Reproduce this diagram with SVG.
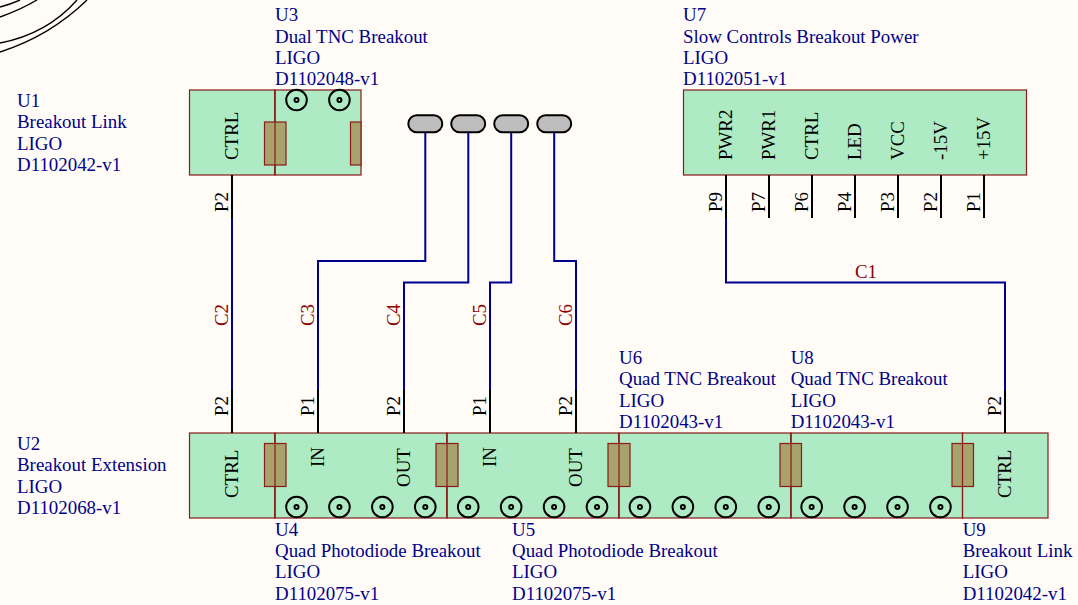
<svg xmlns="http://www.w3.org/2000/svg" width="1078" height="605" viewBox="0 0 1078 605">
<style>
text{font-family:"Liberation Serif","Times New Roman",serif;font-size:18.9px}
.d text,text.d{fill:#000088}
.pin{fill:#000}
.net{fill:#8b0000}
.b{fill:#aeeac4;stroke:#8b1a1a;stroke-width:1.2}
.c{fill:#a8a36c;stroke:#8b1a1a;stroke-width:1.2}
.l{stroke:#8b1a1a;stroke-width:1.2;fill:none}
.w{fill:none;stroke:#000090;stroke-width:2}
.p{stroke:#000;stroke-width:2;fill:none}
.o{fill:none;stroke:#000;stroke-width:2}
.t{fill:#bebebe;stroke:#000;stroke-width:2}
</style>
<defs>
<g id="tnc"><circle r="10.300" class="o"/><circle r="2" class="o"/></g>
</defs>
<rect width="1078" height="605" fill="#fffcf8"/>
<g id="arcs" fill="none" stroke="#000" stroke-width="1.4">
<path d="M0 52Q50 36 87 0"/><path d="M0 43Q47 34 77 0"/><path d="M0 17Q20 10 37 0"/><path d="M0 7Q11 4 20 0"/>
</g>
<g id="U1"><rect class="b" x="189.500" y="90" width="85.500" height="85"/>
<g class="d"><text x="17" y="107">U1</text><text x="17" y="128">Breakout Link</text><text x="17" y="150">LIGO</text><text x="17" y="171">D1102042-v1</text></g>
<text class="pin" transform="translate(238,160) rotate(-90)">CTRL</text></g>
<g id="U3"><rect class="b" x="275" y="90" width="86" height="85"/>
<rect class="c" x="264.500" y="122" width="21.500" height="43"/><rect class="c" x="350.500" y="122" width="10.500" height="43"/>
<path class="l" d="M275 90V175"/>
<use href="#tnc" x="296.500" y="100"/><use href="#tnc" x="339.430" y="100"/>
<g class="d"><text x="275" y="21">U3</text><text x="275" y="43">Dual TNC Breakout</text><text x="275" y="64">LIGO</text><text x="275" y="85">D1102048-v1</text></g></g>
<g id="U7"><rect class="b" x="683.500" y="90" width="343" height="85"/>
<g class="d"><text x="683" y="21">U7</text><text x="683" y="43">Slow Controls Breakout Power</text><text x="683" y="64">LIGO</text><text x="683" y="85">D1102051-v1</text></g>
<g class="pin">
<text transform="translate(732,160) rotate(-90)">PWR2</text><text transform="translate(775,160) rotate(-90)">PWR1</text><text transform="translate(818,160) rotate(-90)">CTRL</text><text transform="translate(861,160) rotate(-90)">LED</text><text transform="translate(904,160) rotate(-90)">VCC</text><text transform="translate(947,160) rotate(-90)">-15V</text><text transform="translate(990,160) rotate(-90)">+15V</text>
</g></g>
<g id="U2"><rect class="b" x="189.500" y="433" width="85.500" height="85"/>
<g class="d"><text x="17" y="450">U2</text><text x="17" y="471">Breakout Extension</text><text x="17" y="493">LIGO</text><text x="17" y="514">D1102068-v1</text></g>
<text class="pin" transform="translate(238,498) rotate(-90)">CTRL</text></g>
<g id="U4"><rect class="b" x="275" y="433" width="172" height="85"/>
<text class="pin" transform="translate(324,467) rotate(-90)">IN</text><text class="pin" transform="translate(410,487) rotate(-90)">OUT</text>
<use href="#tnc" x="296.500" y="507"/><use href="#tnc" x="339.430" y="507"/><use href="#tnc" x="382.360" y="507"/><use href="#tnc" x="425.290" y="507"/>
<g class="d"><text x="275" y="536">U4</text><text x="275" y="557">Quad Photodiode Breakout</text><text x="275" y="578">LIGO</text><text x="275" y="600">D1102075-v1</text></g></g>
<g id="U5"><rect class="b" x="447" y="433" width="172" height="85"/>
<text class="pin" transform="translate(496,467) rotate(-90)">IN</text><text class="pin" transform="translate(582,487) rotate(-90)">OUT</text>
<use href="#tnc" x="468.220" y="507"/><use href="#tnc" x="511.150" y="507"/><use href="#tnc" x="554.080" y="507"/><use href="#tnc" x="597.010" y="507"/>
<g class="d"><text x="512" y="536">U5</text><text x="512" y="557">Quad Photodiode Breakout</text><text x="512" y="578">LIGO</text><text x="512" y="600">D1102075-v1</text></g></g>
<g id="U6"><rect class="b" x="619" y="433" width="172" height="85"/>
<use href="#tnc" x="639.940" y="507"/><use href="#tnc" x="682.870" y="507"/><use href="#tnc" x="725.800" y="507"/><use href="#tnc" x="768.730" y="507"/>
<g class="d"><text x="619" y="364">U6</text><text x="619" y="385">Quad TNC Breakout</text><text x="619" y="407">LIGO</text><text x="619" y="428">D1102043-v1</text></g></g>
<g id="U8"><rect class="b" x="791" y="433" width="172" height="85"/>
<use href="#tnc" x="811.660" y="507"/><use href="#tnc" x="854.590" y="507"/><use href="#tnc" x="897.520" y="507"/><use href="#tnc" x="940.450" y="507"/>
<g class="d"><text x="790.700" y="364">U8</text><text x="790.700" y="385">Quad TNC Breakout</text><text x="790.700" y="407">LIGO</text><text x="790.700" y="428">D1102043-v1</text></g></g>
<g id="U9"><rect class="b" x="962.500" y="433" width="85.500" height="85"/>
<text class="pin" transform="translate(1011,498) rotate(-90)">CTRL</text>
<g class="d"><text x="962.700" y="536">U9</text><text x="962.700" y="557">Breakout Link</text><text x="962.700" y="578">LIGO</text><text x="962.700" y="600">D1102042-v1</text></g></g>
<g id="couplers">
<rect class="c" x="264.500" y="443.500" width="21.500" height="43"/><rect class="c" x="436" y="443.500" width="22" height="43"/><rect class="c" x="608" y="443.500" width="22" height="43"/><rect class="c" x="780" y="443.500" width="21.500" height="43"/><rect class="c" x="952" y="443.500" width="21.500" height="43"/>
<path class="l" d="M275 433V518M447 433V518M619 433V518M791 433V518M962.500 433V518"/>
</g>
<g id="T1"><rect class="t" x="408.300" y="115.300" width="34" height="17" rx="8.500"/></g>
<g id="T2"><rect class="t" x="451.200" y="115.300" width="34" height="17" rx="8.500"/></g>
<g id="T3"><rect class="t" x="494.200" y="115.300" width="34" height="17" rx="8.500"/></g>
<g id="T4"><rect class="t" x="537.200" y="115.300" width="34" height="17" rx="8.500"/></g>
<g id="connectors">
<path class="w" d="M232 218V390"/>
<path class="w" d="M425.300 133V261H318V390"/>
<path class="w" d="M468.300 133V282.500H404V390"/>
<path class="w" d="M511.200 133V282.500H490V390"/>
<path class="w" d="M554.200 133V261H576V390"/>
<path class="w" d="M726 218V282.500H1005V390"/>
<path class="p" d="M232 175V218M232 390V433M318 390V433M404 390V433M490 390V433M576 390V433M1005 390V433M726 175V218M769 175V218M812 175V218M855 175V218M898 175V218M941 175V218M984 175V218"/>
<g class="pin">
<text transform="translate(228,212) rotate(-90)">P2</text><text transform="translate(228,416) rotate(-90)">P2</text><text transform="translate(314,416) rotate(-90)">P1</text><text transform="translate(400,416) rotate(-90)">P2</text><text transform="translate(486,416) rotate(-90)">P1</text><text transform="translate(572,416) rotate(-90)">P2</text><text transform="translate(1001,416) rotate(-90)">P2</text>
<text transform="translate(722,212) rotate(-90)">P9</text><text transform="translate(765,212) rotate(-90)">P7</text><text transform="translate(808,212) rotate(-90)">P6</text><text transform="translate(851,212) rotate(-90)">P4</text><text transform="translate(894,212) rotate(-90)">P3</text><text transform="translate(937,212) rotate(-90)">P2</text><text transform="translate(980,212) rotate(-90)">P1</text>
</g>
<g class="net">
<text x="855" y="277.600">C1</text>
<text transform="translate(228,326) rotate(-90)">C2</text><text transform="translate(314,326) rotate(-90)">C3</text><text transform="translate(400,326) rotate(-90)">C4</text><text transform="translate(486,326) rotate(-90)">C5</text><text transform="translate(572,326) rotate(-90)">C6</text>
</g></g>
</svg>
